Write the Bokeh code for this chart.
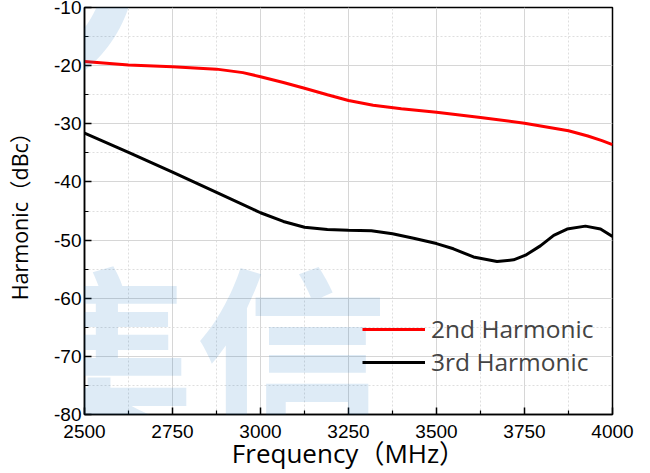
import numpy as np
from bokeh.plotting import figure
from bokeh.models import Legend, LegendItem, Label, FixedTicker, Range1d, PolyAnnotation
from bokeh.embed import file_html
from bokeh.resources import INLINE

# ---- data ----
freq_2nd = [2500, 2625, 2750, 2875, 2950, 3000, 3065, 3125, 3190, 3250, 3320,
            3400, 3500, 3625, 3750, 3875, 3930, 3970, 4000]
h2 = [-19.3, -19.9, -20.2, -20.6, -21.2, -21.9, -22.9, -23.9, -25.0, -26.0, -26.8,
      -27.4, -28.0, -28.9, -29.9, -31.2, -32.1, -32.9, -33.6]

freq_3rd = [2500, 2625, 2750, 2875, 3000, 3065, 3125, 3190, 3250, 3315, 3375, 3435,
            3500, 3548, 3605, 3672, 3719, 3753, 3795, 3833, 3871, 3923, 3966, 4000]
h3 = [-31.6, -34.9, -38.3, -41.8, -45.3, -46.8, -47.8, -48.2, -48.3, -48.4, -48.9, -49.7,
      -50.6, -51.5, -52.9, -53.7, -53.4, -52.6, -51.0, -49.2, -48.1, -47.6, -48.1, -49.4]

x_ticks = [2500, 2750, 3000, 3250, 3500, 3750, 4000]
x_minor = [2625, 2875, 3125, 3375, 3625, 3875]
y_ticks = [-80, -70, -60, -50, -40, -30, -20, -10]
y_tick_labels = ["-80", "-70", "-60", "-50", "-40", "-30", "-20", "-10"]
y_minor = [-75, -65, -55, -45, -35, -25, -15]

series_names = ["2nd Harmonic", "3rd Harmonic"]
x_title = "Frequency（MHz）"
y_title = "Harmonic（dBc）"
watermark = "集信"

WM_COLOR = "#1673bc"
WM_ALPHA = 0.14
FONT = "'Open Sans', 'Noto Sans CJK SC'"

p = figure(width=650, height=473, output_backend="svg", toolbar_location=None,
           x_range=Range1d(2500, 4000), y_range=Range1d(-80, -10),
           min_border_left=84, min_border_right=38, min_border_top=7, min_border_bottom=59,
           background_fill_color="white", border_fill_color="white")

# faint background watermark (decoration only; placed in data space)
def px_to_data(px, py):
    return 2500 + (np.asarray(px) - 84) / 0.352, -10 - (np.asarray(py) - 7) / 5.81

theta = np.linspace(0, np.pi / 2, 40)
ox = list(-1 + 136 * np.cos(theta)) + list(-1 + 106 * np.cos(theta[::-1]))
oy = list(-36 + 136 * np.sin(theta)) + list(-36 + 106 * np.sin(theta[::-1]))
ax_, ay_ = px_to_data(ox, oy)
p.add_layout(PolyAnnotation(xs=list(ax_), ys=list(ay_), fill_color=WM_COLOR,
                            fill_alpha=WM_ALPHA, line_alpha=0))
wx, wy = px_to_data(3, 346)
p.add_layout(Label(x=float(wx), y=float(wy), text=watermark,
                   text_font="Noto Sans CJK SC", text_font_size="192px", text_font_style="bold",
                   text_color=WM_COLOR, text_alpha=WM_ALPHA,
                   text_baseline="alphabetic", text_align="left"))

p.xaxis.ticker = FixedTicker(ticks=x_ticks, minor_ticks=x_minor)
p.yaxis.ticker = FixedTicker(ticks=y_ticks, minor_ticks=y_minor)
p.yaxis.major_label_overrides = {t: s for t, s in zip(y_ticks, y_tick_labels)}

for g in (p.xgrid, p.ygrid):
    g.grid_line_color = "#d6d6d6"
    g.grid_line_width = 1
    g.minor_grid_line_color = "#dedede"
    g.minor_grid_line_dash = "2 2"

for ax in (p.xaxis, p.yaxis):
    ax.axis_line_color = "black"
    ax.axis_line_width = 1.5
    ax.major_tick_in = 7
    ax.major_tick_out = 0
    ax.minor_tick_in = 4
    ax.minor_tick_out = 0
    ax.major_tick_line_color = "black"
    ax.major_tick_line_width = 1.5
    ax.minor_tick_line_color = "black"
    ax.minor_tick_line_width = 1.2
    ax.major_label_text_font = "Liberation Sans"
    ax.major_label_text_font_size = "19px"
    ax.major_label_text_color = "black"
    ax.axis_label_text_font = FONT
    ax.axis_label_text_font_style = "normal"
    ax.axis_label_text_color = "black"

p.xaxis.axis_label = x_title
p.xaxis.axis_label_text_font_size = "26px"
p.xaxis.major_label_standoff = 10
p.xaxis.axis_label_standoff = -6
p.yaxis.axis_label = y_title
p.yaxis.axis_label_text_font_size = "21.5px"
p.yaxis.major_label_standoff = 3
p.yaxis.axis_label_standoff = 17

p.outline_line_color = "black"
p.outline_line_width = 1.5
p.outline_line_alpha = 1

r2 = p.line(freq_2nd, h2, line_color="#ff0000", line_width=3)
r3 = p.line(freq_3rd, h3, line_color="black", line_width=3)

legend = Legend(items=[LegendItem(label=series_names[0], renderers=[r2]),
                       LegendItem(label=series_names[1], renderers=[r3])],
                location=(278, 36), background_fill_alpha=0, border_line_alpha=0,
                padding=0, margin=0, label_text_font="Open Sans", label_text_font_size="24.5px",
                glyph_width=63, glyph_height=20, label_standoff=6, spacing=0)
p.add_layout(legend)

open("out.html", "w").write(file_html(p, INLINE))
